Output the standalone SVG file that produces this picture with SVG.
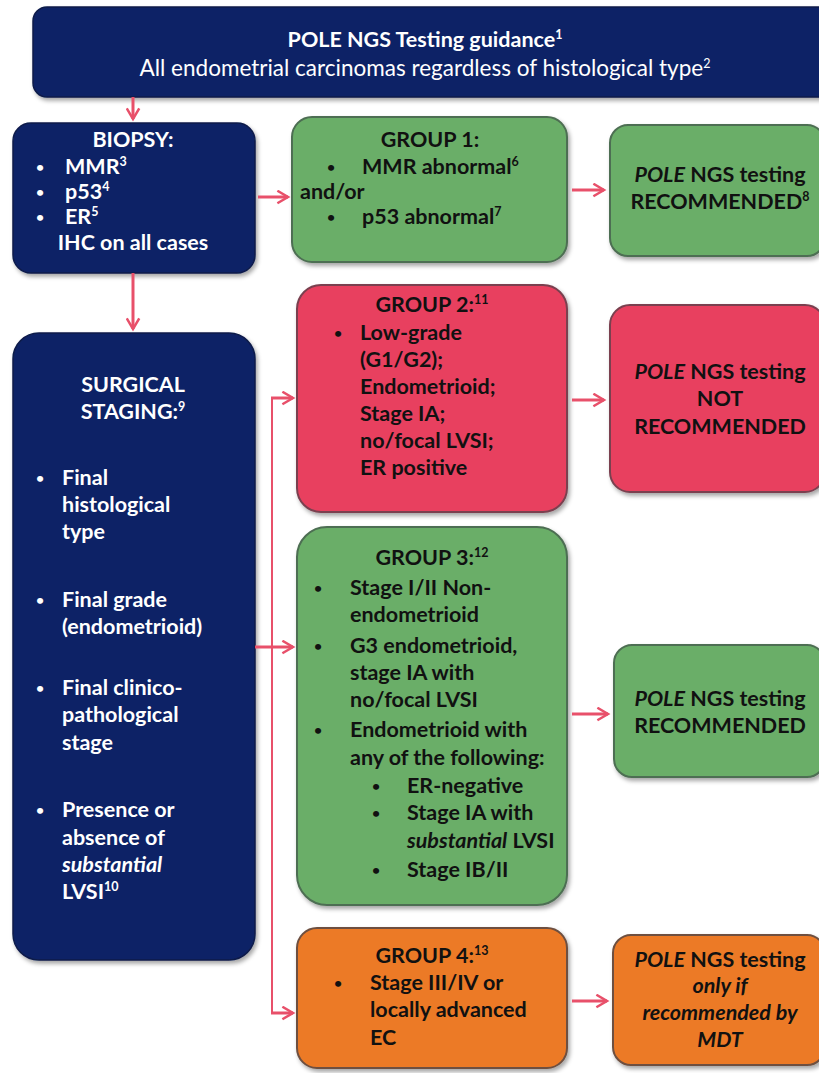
<svg xmlns="http://www.w3.org/2000/svg" width="819" height="1073" viewBox="0 0 819 1073">
<defs>
<marker id="ah" viewBox="0 0 12 12" refX="10" refY="6" markerWidth="5" markerHeight="5" orient="auto" markerUnits="strokeWidth">
<path d="M1.5,1 L10,6 L1.5,11" fill="none" stroke="#e8506a" stroke-width="2"/>
</marker>
<filter id="sh" x="-5%" y="-5%" width="115%" height="115%">
<feDropShadow dx="2" dy="3" stdDeviation="2" flood-color="#000" flood-opacity="0.35"/>
</filter>
</defs>
<style>
text{font-family:Lato,"Open Sans","Liberation Sans",sans-serif;font-size:21.5px;font-weight:bold}
.w{fill:#ffffff}
.k{fill:#111111}
.c{text-anchor:middle}
.b{font-size:14px}
.navy{fill:#0f2466;stroke:#0a1a4a;stroke-width:1.5}
.green{fill:#6aae68;stroke:#4d6e52;stroke-width:2}
.red{fill:#e8415f;stroke:#7a4050;stroke-width:2}
.orange{fill:#ec7a26;stroke:#6e5040;stroke-width:2}
.sup{font-size:12.5px}
.it{font-style:italic}
.conn{fill:none;stroke:#e8506a;stroke-width:3}
</style>
<rect width="819" height="1073" fill="#ffffff"/>

<g id="title">
<rect x="33" y="7" width="800" height="90" rx="14" class="navy" filter="url(#sh)"/>
<text x="425" y="47" class="w c">POLE NGS Testing guidance<tspan class="sup" dy="-8">1</tspan></text>
<text x="425" y="76" class="w c" style="font-weight:normal;font-size:22.5px">All endometrial carcinomas regardless of histological type<tspan class="sup" dy="-8">2</tspan></text>
</g>

<g id="biopsy">
<rect x="13" y="123" width="242" height="150" rx="18" class="navy" filter="url(#sh)"/>
<text x="133" y="147" class="w c">BIOPSY:</text>
<text x="36" y="172" class="w b">•</text><text x="65" y="174" class="w">MMR<tspan class="sup" dy="-8">3</tspan></text>
<text x="36" y="197" class="w b">•</text><text x="65" y="199" class="w">p53<tspan class="sup" dy="-8">4</tspan></text>
<text x="36" y="222" class="w b">•</text><text x="65" y="224" class="w">ER<tspan class="sup" dy="-8">5</tspan></text>
<text x="133" y="250" class="w c">IHC on all cases</text>
</g>

<g id="group1">
<rect x="292" y="117" width="275" height="145" rx="20" class="green" filter="url(#sh)"/>
<text x="430" y="147" class="k c">GROUP 1:</text>
<text x="327" y="172" class="k b">•</text><text x="362" y="174" class="k">MMR abnormal<tspan class="sup" dy="-8">6</tspan></text>
<text x="300" y="199" class="k">and/or</text>
<text x="327" y="222" class="k b">•</text><text x="362" y="224" class="k">p53 abnormal<tspan class="sup" dy="-8">7</tspan></text>
</g>

<g id="rec1">
<rect x="610" y="125" width="215" height="131" rx="18" class="green" filter="url(#sh)"/>
<text x="720" y="182" class="k c"><tspan class="it">POLE</tspan> NGS testing</text>
<text x="720" y="209" class="k c">RECOMMENDED<tspan class="sup" dy="-8">8</tspan></text>
</g>

<g id="surgical">
<rect x="13" y="333" width="242" height="627" rx="26" class="navy" filter="url(#sh)"/>
<text x="133" y="392" class="w c">SURGICAL</text>
<text x="133" y="419" class="w c">STAGING:<tspan class="sup" dy="-8">9</tspan></text>
<text x="36" y="483" class="w b">•</text>
<text x="62" y="485" class="w">Final</text>
<text x="62" y="512" class="w">histological</text>
<text x="62" y="539" class="w">type</text>
<text x="36" y="605" class="w b">•</text>
<text x="62" y="607" class="w">Final grade</text>
<text x="62" y="634" class="w">(endometrioid)</text>
<text x="36" y="693" class="w b">•</text>
<text x="62" y="695" class="w">Final clinico-</text>
<text x="62" y="722" class="w">pathological</text>
<text x="62" y="750" class="w">stage</text>
<text x="36" y="815" class="w b">•</text>
<text x="62" y="817" class="w">Presence or</text>
<text x="62" y="845" class="w">absence of</text>
<text x="62" y="872" class="w it">substantial</text>
<text x="62" y="899" class="w">LVSI<tspan class="sup" dy="-8">10</tspan></text>
</g>

<g id="group2">
<rect x="297" y="285" width="270" height="227" rx="24" class="red" filter="url(#sh)"/>
<text x="432" y="312" class="k c">GROUP 2:<tspan class="sup" dy="-8">11</tspan></text>
<text x="334" y="338" class="k b">•</text>
<text x="360" y="340" class="k">Low-grade</text>
<text x="360" y="367" class="k">(G1/G2);</text>
<text x="360" y="394" class="k">Endometrioid;</text>
<text x="360" y="421" class="k">Stage IA;</text>
<text x="360" y="448" class="k">no/focal LVSI;</text>
<text x="360" y="475" class="k">ER positive</text>
</g>

<g id="rec2">
<rect x="610" y="305" width="215" height="187" rx="20" class="red" filter="url(#sh)"/>
<text x="720" y="379" class="k c"><tspan class="it">POLE</tspan> NGS testing</text>
<text x="720" y="406" class="k c">NOT</text>
<text x="720" y="434" class="k c">RECOMMENDED</text>
</g>

<g id="group3">
<rect x="297" y="527" width="270" height="378" rx="30" class="green" filter="url(#sh)"/>
<text x="432" y="565" class="k c">GROUP 3:<tspan class="sup" dy="-8">12</tspan></text>
<text x="314" y="593" class="k b">•</text>
<text x="350" y="595" class="k">Stage I/II Non-</text>
<text x="350" y="622" class="k">endometrioid</text>
<text x="314" y="651" class="k b">•</text>
<text x="350" y="653" class="k">G3 endometrioid,</text>
<text x="350" y="680" class="k">stage IA with</text>
<text x="350" y="707" class="k">no/focal LVSI</text>
<text x="314" y="735" class="k b">•</text>
<text x="350" y="737" class="k">Endometrioid with</text>
<text x="350" y="765" class="k">any of the following:</text>
<text x="372" y="791" class="k b">•</text>
<text x="407" y="793" class="k">ER-negative</text>
<text x="372" y="818" class="k b">•</text>
<text x="407" y="820" class="k">Stage IA with</text>
<text x="407" y="848" class="k"><tspan class="it">substantial</tspan> LVSI</text>
<text x="372" y="875" class="k b">•</text>
<text x="407" y="877" class="k">Stage IB/II</text>
</g>

<g id="rec3">
<rect x="614" y="645" width="211" height="132" rx="18" class="green" filter="url(#sh)"/>
<text x="720" y="706" class="k c"><tspan class="it">POLE</tspan> NGS testing</text>
<text x="720" y="733" class="k c">RECOMMENDED</text>
</g>

<g id="group4">
<rect x="297" y="928" width="270" height="140" rx="20" class="orange" filter="url(#sh)"/>
<text x="432" y="963" class="k c">GROUP 4:<tspan class="sup" dy="-8">13</tspan></text>
<text x="334" y="988" class="k b">•</text>
<text x="370" y="990" class="k">Stage III/IV or</text>
<text x="370" y="1017" class="k">locally advanced</text>
<text x="370" y="1045" class="k">EC</text>
</g>

<g id="rec4">
<rect x="613" y="935" width="212" height="130" rx="18" class="orange" filter="url(#sh)"/>
<text x="720" y="967" class="k c"><tspan class="it">POLE</tspan> NGS testing</text>
<text x="720" y="993" class="k c it">only if</text>
<text x="720" y="1020" class="k c it">recommended by</text>
<text x="720" y="1047" class="k c it">MDT</text>
</g>

<g id="connectors">
<path d="M133,97 V119" class="conn" marker-end="url(#ah)"/>
<path d="M258,197 H288" class="conn" marker-end="url(#ah)"/>
<path d="M572,190 H604" class="conn" marker-end="url(#ah)"/>
<path d="M133,273 V329" class="conn" marker-end="url(#ah)"/>
<path d="M255,647 H293" class="conn" marker-end="url(#ah)"/>
<path d="M272,398 V1013" class="conn" style="stroke-width:2"/>
<path d="M271,398 H293" class="conn" marker-end="url(#ah)"/>
<path d="M271,1013 H293" class="conn" marker-end="url(#ah)"/>
<path d="M572,400 H604" class="conn" marker-end="url(#ah)"/>
<path d="M572,714 H608" class="conn" marker-end="url(#ah)"/>
<path d="M572,1001 H607" class="conn" marker-end="url(#ah)"/>
</g>
</svg>
